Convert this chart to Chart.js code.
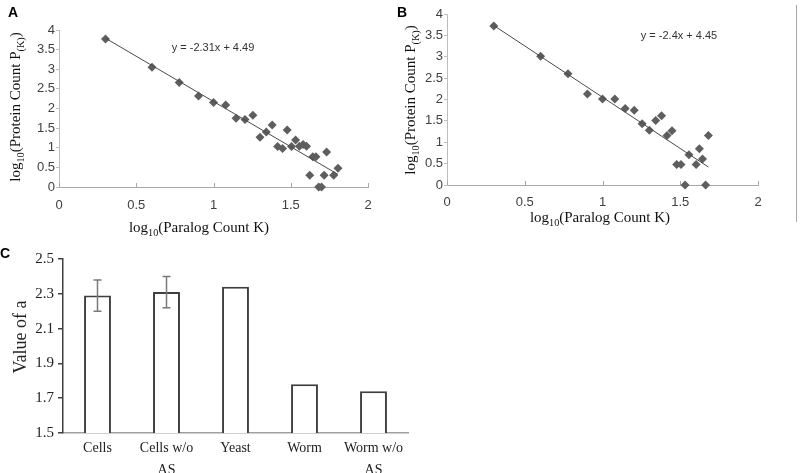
<!DOCTYPE html>
<html>
<head>
<meta charset="utf-8">
<script src="https://cdn.jsdelivr.net/npm/chart.js@4.4.1/dist/chart.umd.min.js"></script>
<style>
  body { margin: 0; background: #fff; }
  #wrap { position: relative; width: 800px; height: 473px; overflow: hidden; background: #fff; }
  canvas { position: absolute; }
  .letra { position: absolute; font: bold 14px "Liberation Sans", Arial, sans-serif; line-height: 14px; color: #000; }
  #marco { position: absolute; left: 796px; top: 5px; width: 1px; height: 217px; background: #a8a8a8; }
</style>
</head>
<body>
<div id="wrap">
  <canvas id="graficaA" style="left:0;top:0" width="390" height="240"></canvas>
  <canvas id="graficaB" style="left:400px;top:0" width="390" height="240"></canvas>
  <canvas id="graficaC" style="left:0;top:240px" width="420" height="233"></canvas>
  <div class="letra" style="left:8px;top:5px">A</div>
  <div class="letra" style="left:397px;top:5px">B</div>
  <div class="letra" style="left:0;top:246px">C</div>
  <div id="marco"></div>
</div>
<script>
// panel A: log10(paralog count) vs log10(protein count)
const xA = [0.301, 0.602, 0.778, 0.903, 1.000, 1.079, 1.146, 1.204, 1.255, 1.301, 1.342, 1.380, 1.415, 1.447, 1.477, 1.505, 1.531, 1.556, 1.580, 1.602, 1.623, 1.643, 1.663, 1.681, 1.699, 1.716, 1.732, 1.778, 1.806];
const yA = [3.77, 3.05, 2.66, 2.32, 2.15, 2.09, 1.75, 1.72, 1.83, 1.27, 1.40, 1.58, 1.03, 0.98, 1.45, 1.03, 1.20, 1.04, 1.08, 1.04, 0.30, 0.77, 0.77, 0, 0, 0.30, 0.89, 0.30, 0.48];
const trendAX = [0.301, 1.806];
const trendAY = [3.79, 0.32];
const ecuacionA = 'y = -2.31x + 4.49';

// panel B
const xB = [0.301, 0.602, 0.778, 0.903, 1.000, 1.079, 1.146, 1.204, 1.255, 1.301, 1.342, 1.380, 1.415, 1.447, 1.477, 1.505, 1.531, 1.556, 1.602, 1.623, 1.643, 1.663, 1.681];
const yB = [3.72, 3.01, 2.60, 2.13, 2.01, 2.01, 1.79, 1.75, 1.43, 1.28, 1.51, 1.62, 1.16, 1.27, 0.48, 0.48, 0, 0.71, 0.48, 0.85, 0.61, 0, 1.16];
const trendBX = [0.301, 1.681];
const trendBY = [3.73, 0.42];
const ecuacionB = 'y = -2.4x + 4.45';

// panel C: value of a
const categoriasC = ['Cells', ['Cells w/o', 'AS'], 'Yeast', 'Worm', ['Worm w/o', 'AS']];
const valoresC = [2.29, 2.31, 2.34, 1.78, 1.74];
const erroresC = [0.09, 0.09, 0, 0, 0];

const tituloX = [{t: 'log'}, {t: '10', sub: true}, {t: '(Paralog Count K)'}];
const tituloY = [{t: 'log'}, {t: '10', sub: true}, {t: '(Protein Count P'}, {t: '(K)', sub: true}, {t: ')'}];

function dibujarTexto(ctx, partes, x, y, size, rot, familia, color) {
    ctx.save();
    ctx.translate(x, y);
    ctx.rotate(rot || 0);
    ctx.fillStyle = color || '#000';
    ctx.textBaseline = 'alphabetic';
    ctx.textAlign = 'left';
    let total = 0;
    partes.forEach(p => {
        ctx.font = (p.sub ? size * 0.68 : size) + 'px ' + familia;
        total += ctx.measureText(p.t).width;
    });
    let cx = -total / 2;
    partes.forEach(p => {
        const s = p.sub ? size * 0.68 : size;
        ctx.font = s + 'px ' + familia;
        ctx.fillText(p.t, cx, p.sub ? size * 0.35 + size * 0.28 : size * 0.35);
        cx += ctx.measureText(p.t).width;
    });
    ctx.restore();
}

const pluginTextos = {
    id: 'textos',
    afterDraw(chart, args, opts) {
        const ctx = chart.ctx;
        (opts.items || []).forEach(it => {
            dibujarTexto(ctx, it.partes, it.x, it.y, it.size, it.rot, it.familia, it.color);
        });
        if (opts.marcasX) {
            const sx = chart.scales.x;
            const b = chart.chartArea.bottom;
            ctx.save();
            ctx.strokeStyle = '#a8a8a8';
            ctx.lineWidth = 1;
            sx.ticks.forEach((t, i) => {
                const px = Math.round(sx.getPixelForTick(i)) + 0.5;
                ctx.beginPath();
                ctx.moveTo(px, b);
                ctx.lineTo(px, b - 4);
                ctx.stroke();
            });
            ctx.restore();
        }
    }
};

const pluginErrores = {
    id: 'errores',
    afterDatasetsDraw(chart) {
        const ctx = chart.ctx;
        const meta = chart.getDatasetMeta(0);
        const sy = chart.scales.y;
        ctx.save();
        ctx.strokeStyle = '#7a7a7a';
        ctx.lineWidth = 1.5;
        erroresC.forEach((e, i) => {
            if (!e) return;
            const x = meta.data[i].x;
            const y1 = sy.getPixelForValue(valoresC[i] + e);
            const y2 = sy.getPixelForValue(valoresC[i] - e);
            ctx.beginPath();
            ctx.moveTo(x, y1); ctx.lineTo(x, y2);
            ctx.moveTo(x - 4, y1); ctx.lineTo(x + 4, y1);
            ctx.moveTo(x - 4, y2); ctx.lineTo(x + 4, y2);
            ctx.stroke();
        });
        ctx.restore();
    }
};

const sans = '"Liberation Sans", Arial, sans-serif';
const serif = '"Liberation Serif", "Times New Roman", serif';

function puntos(xs, ys) {
    return xs.map((x, i) => ({x: x, y: ys[i]}));
}

function crearDispersion(id, xs, ys, tx, ty, conf) {
    const ctx = document.getElementById(id).getContext('2d');
    return new Chart(ctx, {
        type: 'scatter',
        data: {
            datasets: [{
                type: 'line',
                data: puntos(tx, ty),
                borderColor: '#4a4a4a',
                borderWidth: 1,
                pointRadius: 0,
                fill: false
            }, {
                data: puntos(xs, ys),
                pointStyle: 'rectRot',
                pointRadius: 4.5,
                pointBorderWidth: 0,
                backgroundColor: '#5e5e5e',
                clip: false
            }]
        },
        options: {
            responsive: false,
            animation: false,
            events: [],
            layout: {padding: {top: conf.top, right: conf.right, left: 0, bottom: 0}},
            plugins: {
                legend: {display: false},
                tooltip: {enabled: false},
                textos: {marcasX: true, items: conf.textos}
            },
            scales: {
                x: {
                    type: 'linear',
                    min: 0, max: 2,
                    afterFit: s => { s.height = conf.alturaX; },
                    ticks: {stepSize: 0.5, padding: conf.padX, color: '#404040',
                        font: {family: sans, size: 13},
                        callback: v => String(+v.toFixed(2))},
                    grid: {display: false, drawTicks: false, tickLength: 0},
                    border: {color: '#a8a8a8', width: 1}
                },
                y: {
                    min: 0, max: 4,
                    afterFit: s => { s.width = conf.anchoY; },
                    ticks: {stepSize: 0.5, padding: 1, color: '#404040',
                        font: {family: sans, size: 13},
                        callback: v => String(+v.toFixed(2))},
                    grid: {drawOnChartArea: false, tickLength: 3, color: '#bdbdbd'},
                    border: {color: '#bdbdbd', width: 1}
                }
            }
        },
        plugins: [pluginTextos]
    });
}

window.onload = function () {
    crearDispersion('graficaA', xA, yA, trendAX, trendAY, {
        top: 30, right: 22, alturaX: 53, anchoY: 59, padX: 11,
        textos: [
            {partes: tituloX, x: 199, y: 227, size: 15, familia: serif, color: '#111'},
            {partes: tituloY, x: 15, y: 107, size: 15, rot: -Math.PI / 2, familia: serif, color: '#111'},
            {partes: [{t: ecuacionA}], x: 213, y: 47, size: 11, familia: sans, color: '#333'}
        ]
    });

    crearDispersion('graficaB', xB, yB, trendBX, trendBY, {
        top: 14, right: 32, alturaX: 55, anchoY: 47, padX: 10,
        textos: [
            {partes: tituloX, x: 200, y: 217, size: 15, familia: serif, color: '#111'},
            {partes: tituloY, x: 10, y: 100, size: 15, rot: -Math.PI / 2, familia: serif, color: '#111'},
            {partes: [{t: ecuacionB}], x: 279, y: 35, size: 11, familia: sans, color: '#333'}
        ]
    });

    const ctxC = document.getElementById('graficaC').getContext('2d');
    new Chart(ctxC, {
        type: 'bar',
        data: {
            labels: categoriasC,
            datasets: [{
                data: valoresC,
                backgroundColor: '#ffffff',
                borderColor: '#3f3f3f',
                borderWidth: 2,
                barPercentage: 0.39,
                categoryPercentage: 1
            }]
        },
        options: {
            responsive: false,
            animation: false,
            events: [],
            layout: {padding: {top: 19, right: 12, left: 0, bottom: 0}},
            plugins: {
                legend: {display: false},
                tooltip: {enabled: false},
                textos: {items: [
                    {partes: [{t: 'Value of a'}], x: 20, y: 97, size: 18, rot: -Math.PI / 2, familia: serif, color: '#222'}
                ]}
            },
            scales: {
                x: {
                    afterFit: s => { s.height = 40; },
                    ticks: {padding: 4, color: '#222', font: {family: serif, size: 14, lineHeight: '22px'},
                        maxRotation: 0, autoSkip: false},
                    grid: {display: false, drawTicks: false, tickLength: 0},
                    border: {color: '#a0a0a0', width: 1.5}
                },
                y: {
                    min: 1.5, max: 2.5,
                    afterFit: s => { s.width = 63; },
                    ticks: {stepSize: 0.2, padding: 4, color: '#222', font: {family: serif, size: 15},
                        callback: v => v.toFixed(1)},
                    grid: {drawOnChartArea: false, tickLength: 5, color: '#404040', lineWidth: 1.5},
                    border: {color: '#404040', width: 1.5}
                }
            }
        },
        plugins: [pluginTextos, pluginErrores]
    });
};
</script>
</body>
</html>
